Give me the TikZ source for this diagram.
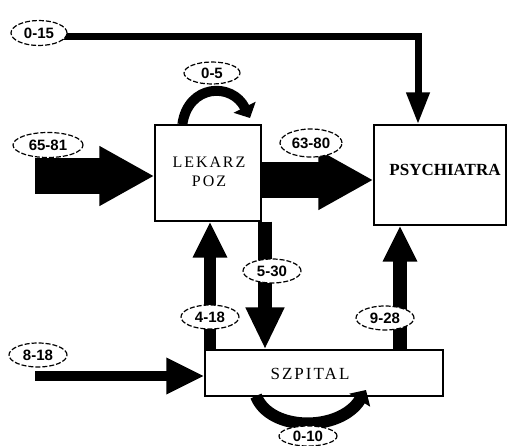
\documentclass[tikz,border=0pt]{standalone}
\usepackage{fontspec}
\setmainfont{Liberation Serif}
\setsansfont{Liberation Sans}
\usetikzlibrary{arrows.meta,shapes.geometric}
\begin{document}
\begin{tikzpicture}[x=1pt,y=-1pt,
  boxnode/.style={draw,line width=1.3pt,inner sep=0pt},
  boxtext/.style={font=\addfontfeature{LetterSpace=12}\fontsize{16}{19}\selectfont,align=center},
  lab/.style={draw,dash pattern=on 5pt off 2pt,line width=1.2pt,ellipse,inner sep=0pt,minimum width=50pt,minimum height=24pt,font=\sffamily\bfseries\fontsize{15}{16}\selectfont,fill=white},
  bigarrow/.style={line width=36pt,-{Triangle[length=55pt,width=56pt]}},
  thinarrow/.style={line width=9pt,-{Triangle[length=36pt,width=32pt]}},
  looparrow/.style={line width=10pt,-{Triangle[length=12pt,width=24pt]}}
]
\useasboundingbox (0,0) rectangle (512,445);
% boxes
\node[boxnode,minimum width=106pt,minimum height=96pt] (lek) at (208,173) {};
\node[boxtext] (lektxt) at (209,172) {LEKARZ\\POZ};
\node[boxnode,minimum width=132pt,minimum height=100pt] (psy) at (440,175) {};
\node[font=\bfseries\fontsize{17}{20}\selectfont] (psytxt) at (445,170) {PSYCHIATRA};
\node[boxnode,minimum width=238pt,minimum height=46pt] (szp) at (324,373) {};
\node[boxtext,font=\addfontfeature{LetterSpace=12}\fontsize{17}{20}\selectfont] (szptxt) at (310,374) {SZPITAL};
% free ends
\coordinate (a015) at (60,36);
\coordinate (in1) at (35,176);
\coordinate (in2) at (35,376);
\coordinate (yc) at (0,180);
% top line 0-15
\draw[line width=7pt,-{Triangle[length=32pt,width=22pt]}] (a015) -- (418,36) -- (psy.north -| 418,0);
% left big arrow
\draw[bigarrow] (in1) -- (in1 -| lek.west);
% lekarz -> psychiatra
\draw[bigarrow] (lek.east |- yc) -- (psy.west |- yc);
% lekarz -> szpital (down)
\draw[line width=14pt,-{Triangle[length=42pt,width=36pt]}] (lek.south -| 265,0) -- (szp.north -| 265,0);
% szpital -> lekarz (up)
\draw[thinarrow,line width=12pt] (szp.north -| 210,0) -- (lek.south -| 210,0);
% szpital -> psychiatra
\draw[thinarrow,line width=14pt] (szp.north -| 400,0) -- (psy.south -| 400,0);
% 8-18 into szpital
\draw[line width=10pt,-{Triangle[length=38pt,width=34pt]}] (in2) -- (in2 -| szp.west);
% self loop lekarz
\draw[looparrow] ([xshift=28pt]lek.north west) .. controls (188,84) and (232,82) .. (250,118);
% self loop szpital
\draw[looparrow,line width=12pt] (256,396) .. controls (270,432) and (340,432) .. (366,390);
% labels
\node[lab,minimum width=56pt,minimum height=25pt] (l015) at (39,33) {0-15};
\node[lab,minimum width=56pt,minimum height=22pt] (l05) at (212,73) {0-5};
\node[lab,minimum width=70pt,minimum height=25pt] (l6581) at (48,145) {65-81};
\node[lab,minimum width=62pt,minimum height=28pt] (l6380) at (311,143) {63-80};
\node[lab,minimum width=58pt] (l530) at (272,271) {5-30};
\node[lab,minimum width=58pt] (l418) at (210,317) {4-18};
\node[lab,minimum width=58pt] (l818) at (38,355) {8-18};
\node[lab,minimum width=58pt] (l928) at (385,318) {9-28};
\node[lab,minimum width=58pt,minimum height=20pt] (l010) at (308,436) {0-10};
\end{tikzpicture}
\end{document}
